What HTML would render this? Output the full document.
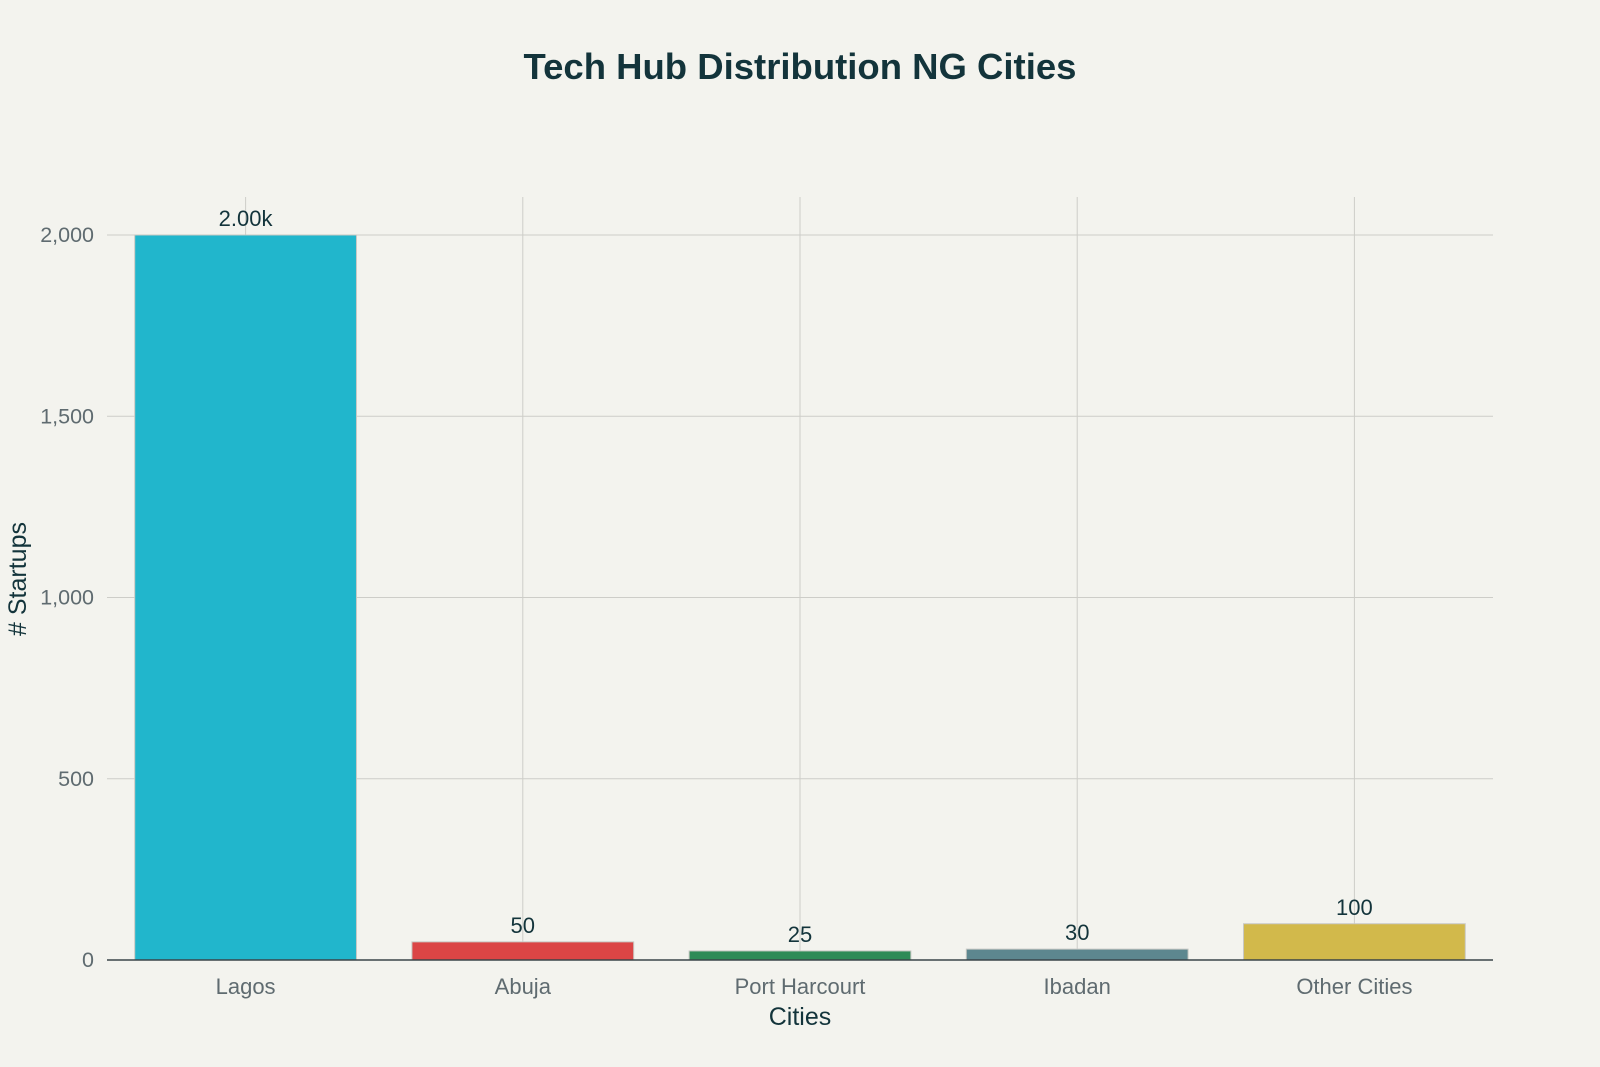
<!DOCTYPE html>
<html><head><meta charset="utf-8"><style>
body{margin:0;background:#f3f3ee;}
svg{display:block;font-family:"Liberation Sans",sans-serif;}
</style></head><body>
<svg id="chart" width="1600" height="1067">
<rect width="1600" height="1067" fill="#f3f3ee"/>
<text x="800" y="79" text-anchor="middle" font-size="36.5" font-weight="bold" fill="#13343b">Tech Hub Distribution NG Cities</text>
<g id="grid"></g><g id="bars"></g><g id="axes"></g>
<text x="800" y="1025" text-anchor="middle" font-size="25" fill="#13343b">Cities</text>
<text transform="translate(26,579) rotate(-90)" text-anchor="middle" font-size="25" fill="#13343b"># Startups</text>
</svg>
<script>
const categories=["Lagos","Abuja","Port Harcourt","Ibadan","Other Cities"];
const values=[2000,50,25,30,100];
const valueLabels=["2.00k","50","25","30","100"];
const colors=["#21b6cc","#db4545","#2e8b57","#5d878f","#d2b94b"];
const yTicks=[0,500,1000,1500,2000];
const yTickLabels=["0","500","1,000","1,500","2,000"];
const NS="http://www.w3.org/2000/svg";
const L=107,R=1493,Y0=960,Ytop=235,TOP=197;
const bw=(R-L)/categories.length;
const y=v=>Y0-(v/2000)*(Y0-Ytop);
const xc=i=>L+bw*(i+0.5);
function mk(t,a,p){const e=document.createElementNS(NS,t);for(const k in a)e.setAttribute(k,a[k]);p.appendChild(e);return e;}
const g=document.getElementById('grid'),b=document.getElementById('bars'),ax=document.getElementById('axes');
yTicks.forEach((t,i)=>{
 if(t>0){const l=mk('line',{x1:L,x2:R,y1:y(t),y2:y(t),stroke:'#cdcdc8','stroke-width':1},g);
 
 }
 const tx=mk('text',{x:L-13,y:y(t)+7,'text-anchor':'end','font-size':21.5,fill:'#5f6b70'},ax);tx.textContent=yTickLabels[i];
 
 
});
categories.forEach((c,i)=>{
 const l=mk('line',{x1:xc(i),x2:xc(i),y1:TOP,y2:Y0,stroke:'#cdcdc8','stroke-width':1},g);
 
 
 const w=bw*0.8;
 const r=mk('rect',{x:xc(i)-w/2,y:y(values[i]),width:w,height:Y0-y(values[i]),fill:colors[i],stroke:'#c8c8c3','stroke-width':1},b);
 
 
 const vl=mk('text',{x:xc(i),y:y(values[i])-9,'text-anchor':'middle','font-size':22,fill:'#13343b'},b);vl.textContent=valueLabels[i];
 
 
 const tl=mk('text',{x:xc(i),y:994,'text-anchor':'middle','font-size':22,fill:'#5f6b70'},ax);tl.textContent=c;
 
 
});
const base=mk('line',{x1:L,x2:R,y1:Y0,y2:Y0,stroke:'#3a4448','stroke-width':1.5},ax);


</script>
</body></html>
